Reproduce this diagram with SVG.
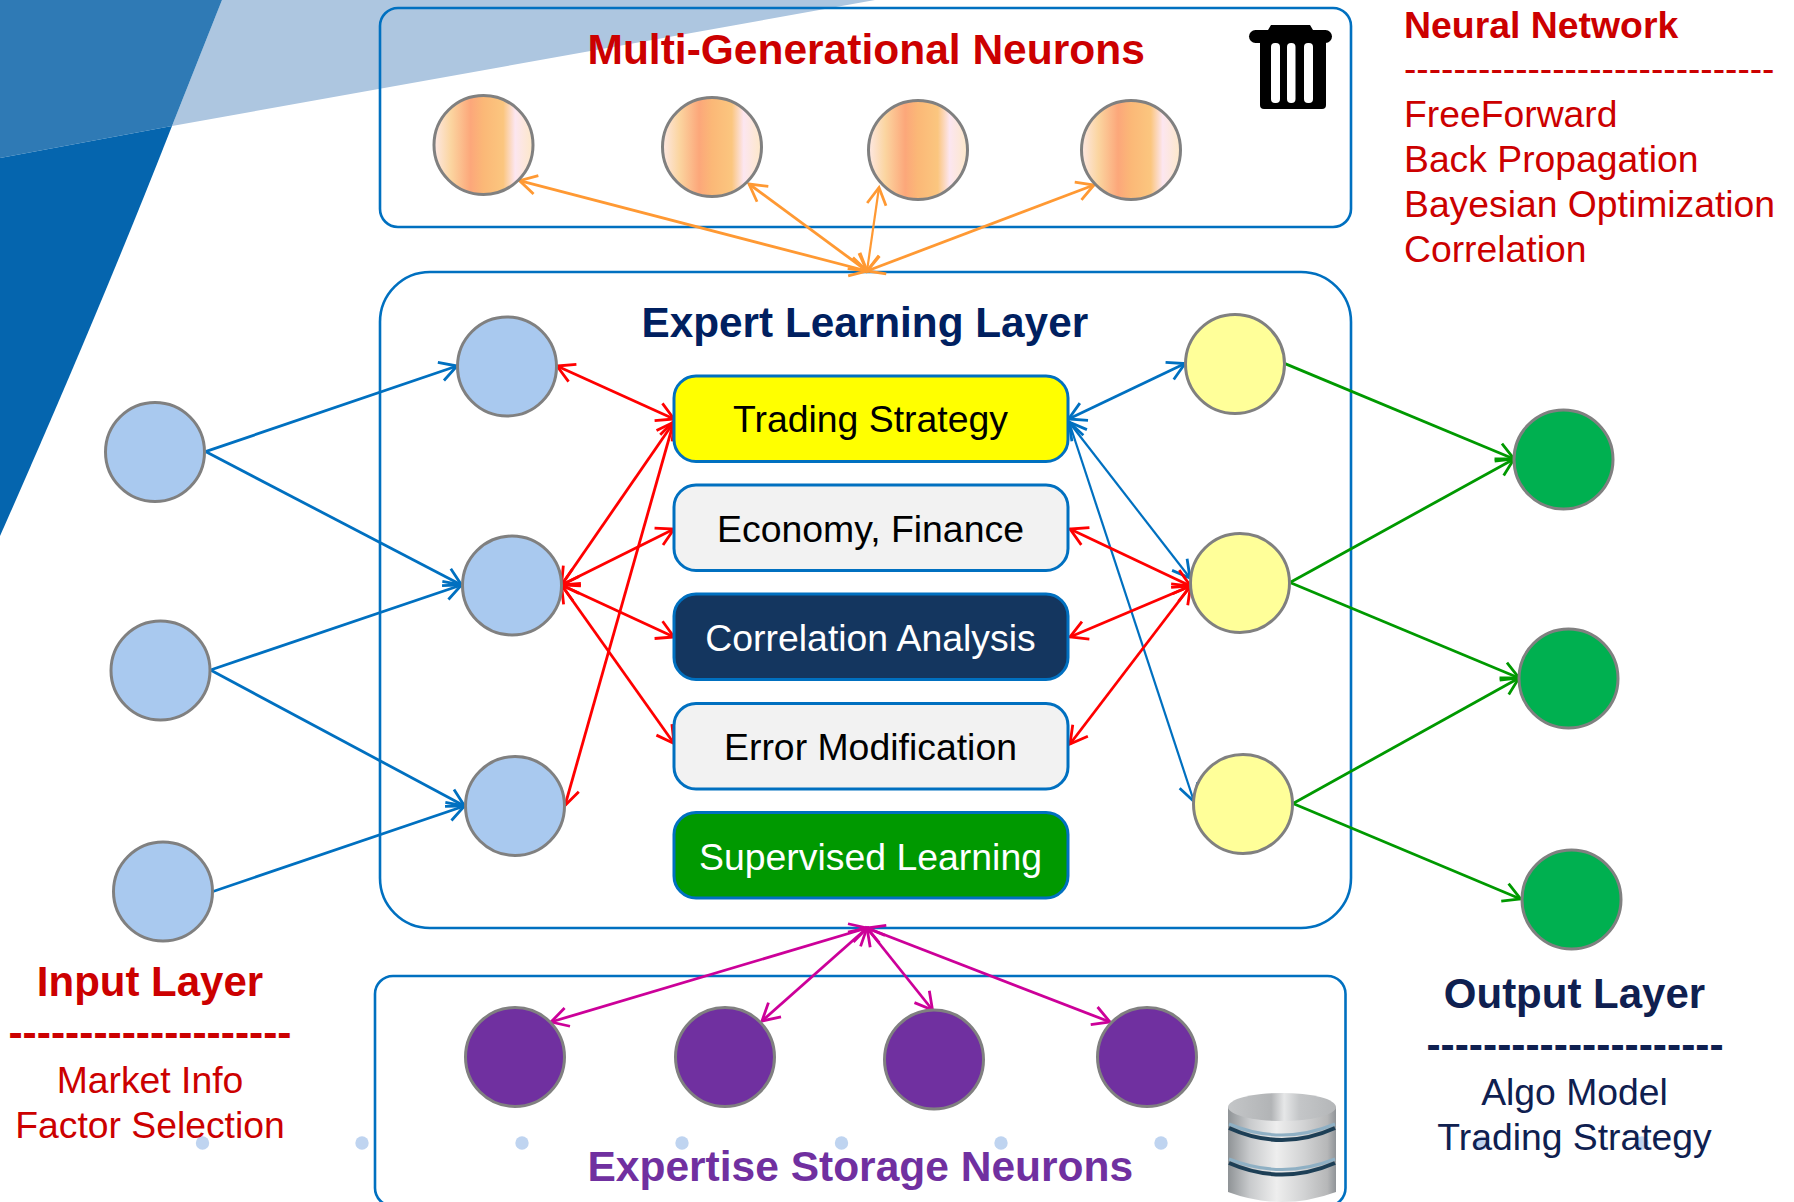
<svg xmlns="http://www.w3.org/2000/svg" width="1794" height="1202" viewBox="0 0 1794 1202">
<style>
text{font-family:"Liberation Sans",Arial,sans-serif}
.b{font-weight:bold}
.m{text-anchor:middle}
.box{fill:none;stroke:#0070c0;stroke-width:2.6}
.n{stroke:#0070c0;stroke-width:3}
.c{stroke:#808080;stroke-width:3}
.bl{fill:#a9c9ef}.ye{fill:#ffff99}.gr{fill:#00b050}.pu{fill:#7030a0}.mg{fill:url(#mgg)}
.red{fill:#cc0000}.navy{fill:#0f2050}
.l{fill:none;stroke-width:2.8}
.lb{stroke:#0070c0;marker-end:url(#ab)}
.lbb{stroke:#0070c0;marker-start:url(#ab);marker-end:url(#ab)}
.lr{stroke:#ff0000;marker-start:url(#ar);marker-end:url(#ar)}
.lo{stroke:#ff9933;marker-start:url(#ao);marker-end:url(#ao)}
.lg{stroke:#009900;marker-end:url(#ag)}
.lm{stroke:#cc0099;marker-start:url(#am);marker-end:url(#am)}
.dot{fill:#bfd4f0}
.groove{fill:none;stroke:#1d3f56;stroke-width:4}
.gl{fill:none;stroke:#8fb0c4;stroke-width:3}
</style>
<defs>
<linearGradient id="mgg" x1="0" y1="0" x2="1" y2="0">
<stop offset="0" stop-color="#fde8e4"/><stop offset=".17" stop-color="#fbd5a0"/><stop offset=".37" stop-color="#fca77a"/><stop offset=".5" stop-color="#fbb877"/><stop offset=".7" stop-color="#fbc67f"/><stop offset=".82" stop-color="#fce6f0"/><stop offset="1" stop-color="#fde8c8"/>
</linearGradient>
<linearGradient id="cyl" x1="0" y1="0" x2="1" y2="0">
<stop offset="0" stop-color="#8f9396"/><stop offset=".2" stop-color="#c8cacc"/><stop offset=".45" stop-color="#eeeeee"/><stop offset=".7" stop-color="#d2d3d4"/><stop offset=".92" stop-color="#b6b7b8"/><stop offset="1" stop-color="#909498"/>
</linearGradient>
<linearGradient id="cap" x1="0" y1="0" x2="1" y2="0">
<stop offset="0" stop-color="#c4c6c8"/><stop offset=".4" stop-color="#b2b4b6"/><stop offset=".52" stop-color="#e6e7e8"/><stop offset=".66" stop-color="#c4c6c8"/><stop offset="1" stop-color="#b4b6b8"/>
</linearGradient>
<marker id="ab" markerUnits="userSpaceOnUse" markerWidth="44" markerHeight="44" refX="22" refY="22" orient="auto-start-reverse" overflow="visible"><path d="M5 12.500L22 22L5 31.500" fill="none" stroke="#0070c0" stroke-width="2.8"/></marker>
<marker id="ar" markerUnits="userSpaceOnUse" markerWidth="44" markerHeight="44" refX="22" refY="22" orient="auto-start-reverse" overflow="visible"><path d="M5 12.500L22 22L5 31.500" fill="none" stroke="#ff0000" stroke-width="2.8"/></marker>
<marker id="ao" markerUnits="userSpaceOnUse" markerWidth="44" markerHeight="44" refX="22" refY="22" orient="auto-start-reverse" overflow="visible"><path d="M5 12.500L22 22L5 31.500" fill="none" stroke="#ff9933" stroke-width="2.8"/></marker>
<marker id="ag" markerUnits="userSpaceOnUse" markerWidth="44" markerHeight="44" refX="22" refY="22" orient="auto-start-reverse" overflow="visible"><path d="M5 12.500L22 22L5 31.500" fill="none" stroke="#009900" stroke-width="2.8"/></marker>
<marker id="am" markerUnits="userSpaceOnUse" markerWidth="44" markerHeight="44" refX="22" refY="22" orient="auto-start-reverse" overflow="visible"><path d="M5 12.500L22 22L5 31.500" fill="none" stroke="#cc0099" stroke-width="2.8"/></marker>
</defs>
<rect width="1794" height="1202" fill="#ffffff"/>
<g id="background">
<path d="M875 0L172 126L222 0Z" fill="#adc6e0"/>
<path d="M0 0H222L172 126L0 158Z" fill="#2f7ab5"/>
<path d="M0 158L172 126Q100 310 0 536Z" fill="#0565ae"/>
<g class="dot">
<circle cx="202.500" cy="1143" r="6.700"/><circle cx="362" cy="1143" r="6.700"/><circle cx="522" cy="1143" r="6.700"/><circle cx="682" cy="1143" r="6.700"/><circle cx="841.500" cy="1143" r="6.700"/><circle cx="1001" cy="1143" r="6.700"/><circle cx="1161" cy="1143" r="6.700"/><circle cx="1482" cy="1143" r="6.700"/><circle cx="1642" cy="1143" r="6.700"/>
</g>
</g>
<g id="panels">
<rect id="panel-mg" class="box" x="380" y="8" width="971" height="219" rx="18" ry="18"/>
<rect id="panel-expert" class="box" x="380" y="272" width="971" height="656" rx="50" ry="50"/>
<rect id="panel-storage" class="box" x="375" y="976" width="970.500" height="230" rx="18" ry="18"/>
</g>
<g id="connectors">
<path class="l lo" d="M867 271L519.500 180.600"/><path class="l lo" d="M867 271L749 184"/><path class="l lo" style="stroke-width:2.200" d="M867 271L879 187.500"/><path class="l lo" d="M867 271L1094 185"/>
<path class="l lb" d="M205.500 451.600L457 366"/><path class="l lb" d="M205.500 451.600L461.500 585"/><path class="l lb" d="M210.500 670L461.500 585"/><path class="l lb" d="M210.500 670L464.500 806"/><path class="l lb" d="M213 891.500L464.500 806"/>
<path class="l lr" d="M557 366L674 419"/><path class="l lr" d="M561.500 585L674 422"/><path class="l lr" d="M561.500 585L674 529"/><path class="l lr" d="M561.500 585L674 637"/><path class="l lr" d="M561.500 585L674 743.500"/><path class="l lr" d="M565 805.500L674 421"/>
<path class="l lbb" d="M1185 363.600L1068.600 419"/><path class="l lbb" style="stroke-width:2.200" d="M1190 578L1069 422"/><path class="l lbb" style="stroke-width:2.200" d="M1194 801.500L1069 422"/>
<path class="l lr" d="M1190.500 586L1070 529"/><path class="l lr" d="M1190.500 586L1070 637"/><path class="l lr" d="M1190.500 586L1070 744"/>
<path class="l lg" d="M1285 363.600L1514 459"/><path class="l lg" d="M1290 582.500L1514 459"/><path class="l lg" d="M1290 582.500L1519 678"/><path class="l lg" d="M1293 803.500L1519 678"/><path class="l lg" d="M1293 803.500L1520.600 899"/>
<path class="l lm" d="M867 928L551 1022"/><path class="l lm" d="M867 928L762 1021"/><path class="l lm" d="M867 928L932.500 1010"/><path class="l lm" d="M867 928L1110 1022"/>
</g>
<g id="mg-1"><circle class="c mg" cx="483.500" cy="145" r="49.500"/></g>
<g id="mg-2"><circle class="c mg" cx="712" cy="147" r="49.500"/></g>
<g id="mg-3"><circle class="c mg" cx="918" cy="150" r="49.500"/></g>
<g id="mg-4"><circle class="c mg" cx="1131" cy="150" r="49.500"/></g>
<g id="in-1"><circle class="c bl" cx="155" cy="452" r="49.500"/></g>
<g id="in-2"><circle class="c bl" cx="160.500" cy="670.500" r="49.500"/></g>
<g id="in-3"><circle class="c bl" cx="163" cy="891.500" r="49.500"/></g>
<g id="hl-1"><circle class="c bl" cx="507" cy="366.500" r="49.500"/></g>
<g id="hl-2"><circle class="c bl" cx="512" cy="585.500" r="49.500"/></g>
<g id="hl-3"><circle class="c bl" cx="515" cy="806" r="49.500"/></g>
<g id="hr-1"><circle class="c ye" cx="1235" cy="364" r="49.500"/></g>
<g id="hr-2"><circle class="c ye" cx="1240" cy="583" r="49.500"/></g>
<g id="hr-3"><circle class="c ye" cx="1243" cy="804" r="49.500"/></g>
<g id="out-1"><circle class="c gr" cx="1563.500" cy="459.500" r="49.500"/></g>
<g id="out-2"><circle class="c gr" cx="1568.500" cy="678.500" r="49.500"/></g>
<g id="out-3"><circle class="c gr" cx="1571.500" cy="899.500" r="49.500"/></g>
<g id="st-1"><circle class="c pu" cx="515" cy="1057" r="49.500"/></g>
<g id="st-2"><circle class="c pu" cx="725" cy="1057" r="49.500"/></g>
<g id="st-3"><circle class="c pu" cx="934" cy="1059.500" r="49.500"/></g>
<g id="st-4"><circle class="c pu" cx="1147" cy="1057" r="49.500"/></g>
<g id="node-trading"><rect class="n" x="674" y="376" width="394" height="85.500" rx="22" fill="#ffff00"/><text class="m" x="870.500" y="432" font-size="37.400" fill="#000">Trading Strategy</text></g>
<g id="node-economy"><rect class="n" x="674" y="485" width="394" height="85.500" rx="22" fill="#f2f2f2"/><text class="m" x="870.500" y="542" font-size="37.400" fill="#000">Economy, Finance</text></g>
<g id="node-correlation"><rect class="n" x="674" y="594" width="394" height="85.500" rx="22" fill="#14365f"/><text class="m" x="870.500" y="651" font-size="37.400" fill="#fff">Correlation Analysis</text></g>
<g id="node-error"><rect class="n" x="674" y="703.500" width="394" height="85.500" rx="22" fill="#f2f2f2"/><text class="m" x="870.500" y="760" font-size="37.400" fill="#000">Error Modification</text></g>
<g id="node-supervised"><rect class="n" x="674" y="812.500" width="394" height="85.500" rx="22" fill="#009900"/><text class="m" x="870.500" y="869.500" font-size="37.400" fill="#fff">Supervised Learning</text></g>
<g id="icon-trash">
<path d="M1260 40H1326V105Q1326 109 1322 109H1264Q1260 109 1260 105Z" fill="#000"/>
<rect x="1249" y="30" width="83" height="13" rx="6.500" fill="#000"/>
<path d="M1268 30L1271 25H1310L1313 30Z" fill="#000"/>
<g fill="#fff"><rect x="1271" y="43" width="9" height="60" rx="4"/><rect x="1287" y="43" width="8.500" height="60" rx="4"/><rect x="1304" y="43" width="9" height="60" rx="4"/></g>
</g>
<g id="icon-database">
<path d="M1228 1107V1192Q1282 1212 1336 1192V1107Z" fill="url(#cyl)"/>
<path class="gl" d="M1229 1124Q1282 1146 1335 1124"/>
<path class="groove" d="M1229 1128Q1282 1152 1335 1128"/>
<path class="gl" d="M1229 1159Q1282 1180 1335 1159"/>
<path class="groove" d="M1229 1163Q1282 1186 1335 1163"/>
<ellipse cx="1282" cy="1107" rx="54" ry="14" fill="url(#cap)"/>
</g>
<g id="labels">
<text class="b" x="587.500" y="64" font-size="42.500" fill="#cc0000">Multi-Generational Neurons</text>
<text class="b" x="641.500" y="337" font-size="42.300" fill="#002060">Expert Learning Layer</text>
<text class="b" x="587.500" y="1181" font-size="42.500" fill="#7030a0">Expertise Storage Neurons</text>
<text class="b red" x="1404" y="37.500" font-size="37.400">Neural Network</text>
<text class="red" x="1404" y="81" font-size="37.100">------------------------------</text>
<text class="red" x="1404" y="127" font-size="37.300">FreeForward</text>
<text class="red" x="1404" y="172" font-size="37.300">Back Propagation</text>
<text class="red" x="1404" y="217" font-size="37.300">Bayesian Optimization</text>
<text class="red" x="1404" y="262" font-size="37.300">Correlation</text>
<text class="b m red" x="150" y="996" font-size="42">Input Layer</text>
<text class="b m red" x="150" y="1047" font-size="42.500">--------------------</text>
<text class="m red" x="150" y="1092.500" font-size="37.300">Market Info</text>
<text class="m red" x="150" y="1137.500" font-size="37.300">Factor Selection</text>
<text class="b m navy" x="1574.500" y="1008" font-size="42">Output Layer</text>
<text class="b m navy" x="1575" y="1059" font-size="42.500">---------------------</text>
<text class="m navy" x="1574.500" y="1105" font-size="37.300">Algo Model</text>
<text class="m navy" x="1574.500" y="1150" font-size="37.300">Trading Strategy</text>
</g>
</svg>
